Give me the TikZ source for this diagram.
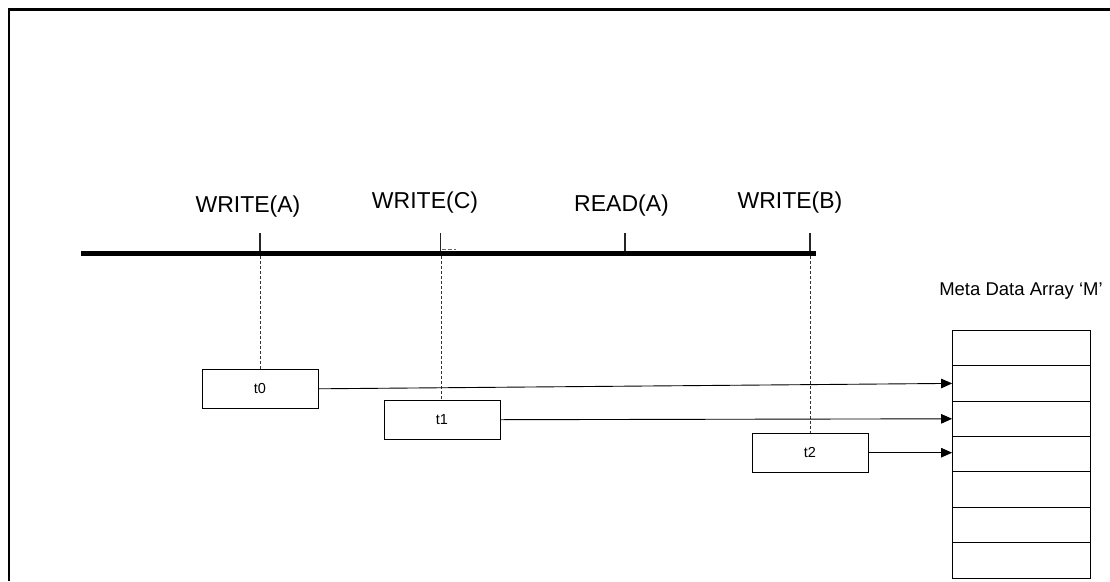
\documentclass[tikz,border=0pt]{standalone}
\usepackage{fontspec}
\setmainfont{Liberation Sans}
\usetikzlibrary{arrows.meta}
\begin{document}
\begin{tikzpicture}[x=1pt,y=-1pt,
  opbox/.style={draw=black,line width=0.9pt,minimum width=116pt,minimum height=39pt,inner sep=0pt,font=\fontsize{14.5}{16}\selectfont},
  cell/.style={draw=black,line width=0.9pt,minimum width=137.5pt,minimum height=35.4pt,inner sep=0pt},
  oplabel/.style={font=\fontsize{23}{26}\selectfont,inner sep=0pt},
  tickline/.style={line width=1.3pt,draw=black!85},
  guide/.style={dash pattern=on 3pt off 2pt,line width=0.8pt,draw=black!80},
  link/.style={line width=0.9pt,-{Triangle[length=11pt,width=9.5pt]}}]
\useasboundingbox (0,0) rectangle (1110,581);
\fill[white] (0,0) rectangle (1110,581);
% frame
\draw[line width=2.5pt] (9,581) -- (9,9.5) -- (1110,9.5);
% timeline
\coordinate (tlL) at (81,253.5);
\coordinate (tlR) at (816,253.5);
\draw[line width=5pt] (tlL) -- (tlR);
\coordinate (kA) at (260,233);
\coordinate (kC) at (440.7,233);
\coordinate (kR) at (625,233);
\coordinate (kB) at (810,233);
\coordinate (kAb) at (260,251);
\coordinate (kCb) at (440.7,251);
\coordinate (kRb) at (625,251);
\coordinate (kBb) at (810,251);
\draw[tickline] (kA) -- (kAb);
\draw[tickline] (kC) -- (kCb);
\draw[tickline] (kR) -- (kRb);
\draw[tickline] (kB) -- (kBb);
% small artifact
\coordinate (artA) at (442,249.3);
\coordinate (artB) at (456,249.3);
\draw[dash pattern=on 4pt off 2pt,line width=0.6pt,draw=black!60] (artA) -- (artB);
% labels
\node[oplabel] (lA) at (248,207) {WRITE(A)};
\node[oplabel] (lC) at (425,203) {WRITE(C)};
\node[oplabel] (lR) at (621.5,206) {READ(A)};
\node[oplabel] (lB) at (790,203) {WRITE(B)};
% boxes
\node[opbox] (t0) at (260,388.8) {t0};
\node[opbox] (t1) at (442,419.7) {t1};
\node[opbox] (t2) at (810,452.7) {t2};
% guides
\coordinate (gA) at (260,256);
\coordinate (gC) at (441.3,256);
\coordinate (gB) at (810,256);
\draw[guide] (gA) -- (t0.north);
\draw[guide] (gC) -- (gC |- t1.north);
\draw[guide] (gB) -- (t2.north);
% array
\node[font=\fontsize{18.5}{21}\selectfont,inner sep=0pt] (title) at (1021,291) {Meta Data Array ‘M’};
\foreach \i in {1,...,7}{
  \node[cell] (m\i) at (1021.3,{330.3+35.4*(\i-0.5)}) {};
}
% arrows
\draw[link] (t0.east) -- (m2.west);
\draw[link] (t1.east) -- (m3.west);
\draw[link] (t2.east) -- (t2.east -| m4.west);
\end{tikzpicture}
\end{document}
